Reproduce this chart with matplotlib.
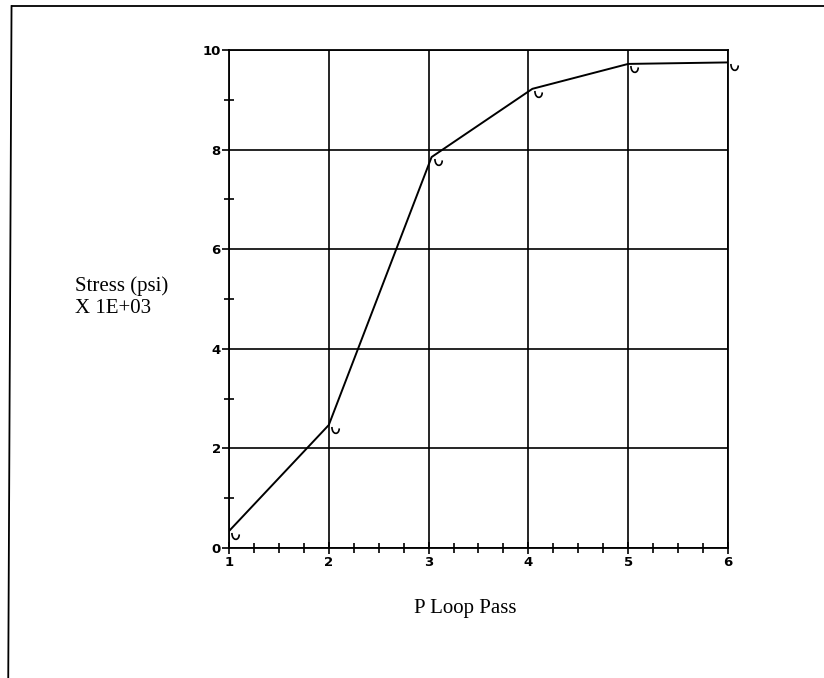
import matplotlib
matplotlib.use("Agg")
import matplotlib.pyplot as plt
from matplotlib.path import Path
from matplotlib.ticker import MultipleLocator
from matplotlib.lines import Line2D

# P-loop pass number vs. stress (x 1000 psi)
passes = [1.0, 2.0, 3.03, 4.04, 5.0, 6.0]
stress = [0.34, 2.47, 7.85, 9.22, 9.72, 9.75]

x_ticks = [1, 2, 3, 4, 5, 6]
y_ticks = [0, 2, 4, 6, 8, 10]

fig = plt.figure(figsize=(8.24, 6.78), dpi=100)

# outer frame (top and left edges)
fig.add_artist(Line2D([0.014, 1.0], [0.991, 0.991], transform=fig.transFigure,
                      color="black", lw=1.3))
fig.add_artist(Line2D([0.014, 0.010], [0.991, 0.0], transform=fig.transFigure,
                      color="black", lw=1.3))

ax = fig.add_axes([0.2779, 0.1917, 0.6056, 0.7346])

# small hook marker hanging below-right of each data point
# (path origin stays at the point, so the offset is part of the shape)
hook = Path([(0.25, -0.15), (0.25, -1.0), (1.0, -1.0), (1.0, -0.3)],
            [Path.MOVETO, Path.CURVE4, Path.CURVE4, Path.CURVE4])

ax.plot(passes, stress, color="black", lw=1.4, zorder=3)
ax.plot(passes, stress, linestyle="none", clip_on=False,
        marker=hook, markersize=14, markerfacecolor="none",
        markeredgecolor="black", markeredgewidth=1.2, zorder=3)

ax.set_xlim(1, 6)
ax.set_ylim(0, 10)
ax.set_xticks(x_ticks)
ax.set_yticks(y_ticks)
ax.xaxis.set_minor_locator(MultipleLocator(0.25))
ax.yaxis.set_minor_locator(MultipleLocator(1))

tick_font = dict(family="Liberation Sans Narrow", weight="bold", size=9.5)
ax.set_xticklabels([str(v) for v in x_ticks], fontdict=tick_font)
ax.set_yticklabels([str(v) for v in y_ticks], fontdict=tick_font)

ax.tick_params(which="major", direction="out", length=5, width=1.2, pad=1)
ax.tick_params(which="minor", direction="inout", length=7, width=1.2)
ax.tick_params(axis="x", which="major", direction="inout", length=8, pad=2)

ax.grid(True, which="major", color="black", lw=1.2)
for s in ax.spines.values():
    s.set_linewidth(1.3)

fig.text(0.091, 0.562, "Stress (psi)\nX 1E+03", family="Liberation Serif",
         size=15, ha="left", va="center", linespacing=1.2)
fig.text(0.565, 0.103, "P Loop Pass", family="Liberation Serif",
         size=15, ha="center", va="center")

fig.savefig("out.png", dpi=100)
